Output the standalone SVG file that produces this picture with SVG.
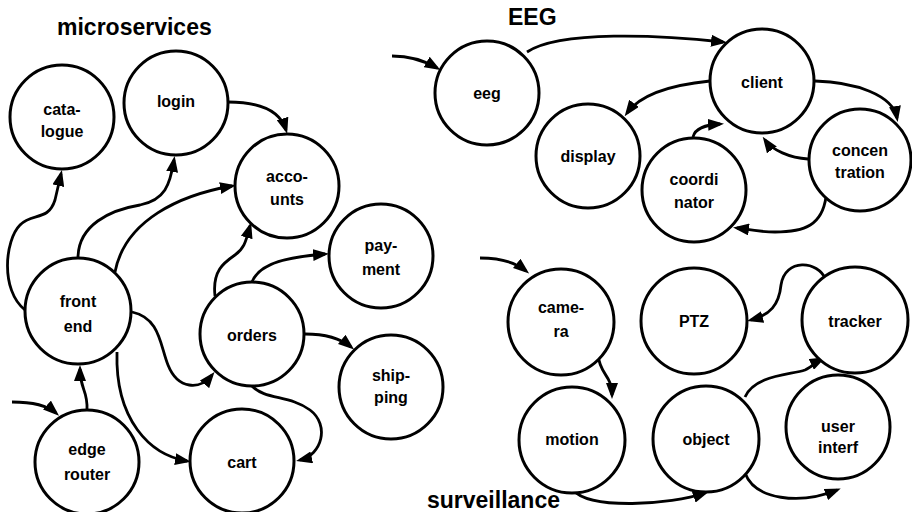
<svg xmlns="http://www.w3.org/2000/svg" width="912" height="512" viewBox="0 0 912 512">
<defs>
<marker id="ah" viewBox="0 0 16 12" markerWidth="16" markerHeight="12" refX="12" refY="6" orient="auto" markerUnits="userSpaceOnUse">
<path d="M0,0 L16,6 L0,12 z" fill="#000"/>
</marker>
<style>
.n circle{fill:#fff;stroke:#000;stroke-width:3}
.n text{font-family:"Liberation Sans",Arial,sans-serif;font-weight:bold;font-size:16px;text-anchor:middle;fill:#000}
.t{font-family:"Liberation Sans",Arial,sans-serif;font-weight:bold;font-size:23px;fill:#000}
#edges path{fill:none;stroke:#000;stroke-width:2.8;marker-end:url(#ah)}
</style>
</defs>
<rect width="912" height="512" fill="#fff"/>
<text class="t" x="57" y="35">microservices</text>
<text class="t" x="508" y="25">EEG</text>
<text class="t" x="427" y="508">surveillance</text>
<g id="edges">
<path d="M25,310 C0,290 5,240 20,225 C32,212 48,222 55,200 L61,174"/>
<path d="M78,258 C78,225 110,210 140,205 C165,200 170,185 174,160"/>
<path d="M115,272 C125,220 180,195 232,186"/>
<path d="M215,296 C212,270 225,262 235,255 C245,248 246,240 250,226"/>
<path d="M252,282 C260,262 290,257 325,254"/>
<path d="M228,102 C260,102 280,110 286,130"/>
<path d="M305,334 C325,334 340,338 351,347"/>
<path d="M252,386 C265,400 290,395 310,410 C330,425 322,455 300,460"/>
<path d="M117,352 C115,420 150,455 187,461"/>
<path d="M132,312 C160,318 160,345 168,365 C178,390 200,390 212,375"/>
<path d="M87,410 C88,390 80,390 80,369"/>
<path d="M12,402 C35,402 48,406 56,413"/>
<path d="M392,56 C410,56 425,61 437,68"/>
<path d="M527,52 C560,30 660,35 723,42"/>
<path d="M710,81 C670,85 640,95 627,113"/>
<path d="M815,81 C855,82 893,95 897,118"/>
<path d="M693,137 C695,128 705,125 720,124"/>
<path d="M808,159 C790,158 772,150 765,140"/>
<path d="M826,197 C822,225 805,232 775,232 C760,232 745,229 737,228"/>
<path d="M480,258 C500,258 515,262 526,271"/>
<path d="M598,355 C600,375 612,375 612,395"/>
<path d="M826,280 C818,260 785,258 781,285 C779,305 770,315 751,320"/>
<path d="M745,397 C755,375 790,375 805,370 C812,367 816,362 822,359"/>
<path d="M573,490 C590,510 670,505 705,493"/>
<path d="M745,473 C755,500 800,505 837,490"/>
</g>
<g id="catalogue" class="n"><circle cx="62" cy="117" r="52"/><text x="62" y="115">cata-</text><text x="62" y="137">logue</text></g>
<g id="login" class="n"><circle cx="176" cy="103" r="52"/><text x="176" y="107">login</text></g>
<g id="accounts" class="n"><circle cx="287" cy="186" r="52"/><text x="287" y="182">acco-</text><text x="287" y="205">unts</text></g>
<g id="payment" class="n"><circle cx="381" cy="256" r="52"/><text x="381" y="251">pay-</text><text x="381" y="275">ment</text></g>
<g id="frontend" class="n"><circle cx="78" cy="311" r="53"/><text x="78" y="307">front</text><text x="78" y="332">end</text></g>
<g id="orders" class="n"><circle cx="252" cy="334" r="52"/><text x="252" y="341">orders</text></g>
<g id="shipping" class="n"><circle cx="391" cy="387" r="52"/><text x="391" y="381">ship-</text><text x="391" y="403">ping</text></g>
<g id="edgerouter" class="n"><circle cx="87" cy="462" r="52"/><text x="87" y="455">edge</text><text x="87" y="480">router</text></g>
<g id="cart" class="n"><circle cx="242" cy="461" r="52"/><text x="242" y="468">cart</text></g>
<g id="eeg" class="n"><circle cx="487" cy="93" r="52"/><text x="487" y="99">eeg</text></g>
<g id="client" class="n"><circle cx="762" cy="81" r="52"/><text x="762" y="88">client</text></g>
<g id="display" class="n"><circle cx="588" cy="156" r="52"/><text x="588" y="162">display</text></g>
<g id="coordinator" class="n"><circle cx="694" cy="190" r="52"/><text x="694" y="185">coordi</text><text x="694" y="208">nator</text></g>
<g id="concentration" class="n"><circle cx="860" cy="160" r="51"/><text x="860" y="156">concen</text><text x="860" y="178">tration</text></g>
<g id="camera" class="n"><circle cx="561" cy="322" r="53"/><text x="561" y="313">came-</text><text x="561" y="337">ra</text></g>
<g id="ptz" class="n"><circle cx="694" cy="321" r="53"/><text x="694" y="327">PTZ</text></g>
<g id="tracker" class="n"><circle cx="855" cy="320" r="53"/><text x="855" y="327">tracker</text></g>
<g id="motion" class="n"><circle cx="572" cy="440" r="53"/><text x="572" y="445">motion</text></g>
<g id="object" class="n"><circle cx="706" cy="439" r="53"/><text x="706" y="445">object</text></g>
<g id="userinterf" class="n"><circle cx="838" cy="427" r="52"/><text x="838" y="432">user</text><text x="838" y="453">interf</text></g>
</svg>
